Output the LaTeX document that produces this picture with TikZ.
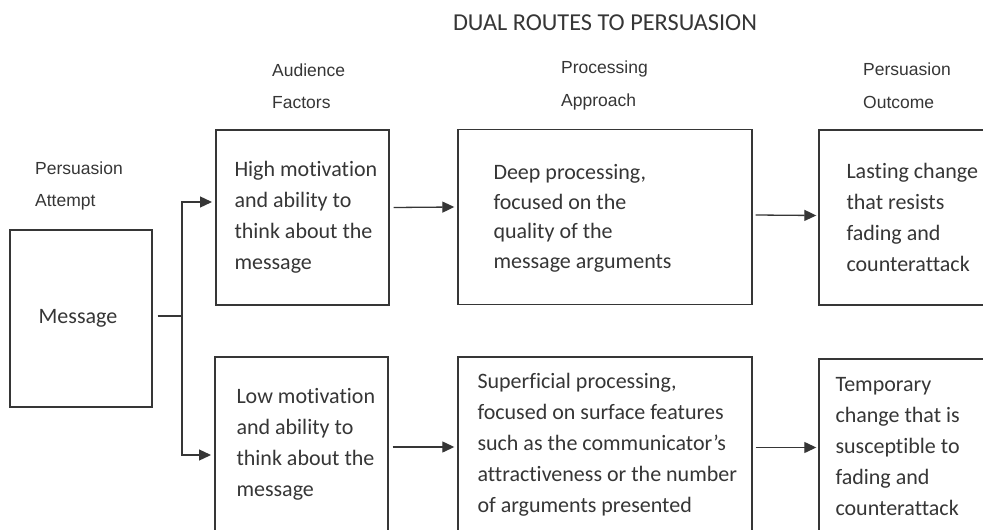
\documentclass[tikz,border=0pt]{standalone}
\usepackage{fontspec}
\setmainfont{Carlito}[Ligatures=CommonOff]
\newfontfamily\headfont{Liberation Sans}
\usetikzlibrary{arrows.meta}
\definecolor{ink}{HTML}{363636}
\begin{document}
\begin{tikzpicture}[x=1pt,y=-1pt,
  box/.style={draw=ink, line width=1.4pt, minimum width=#1, minimum height=175pt, inner sep=0pt},
  box/.default=173,
  body/.style={font=\fontsize{22}{31}\selectfont, align=left, anchor=west, inner sep=0pt, text=ink},
  head/.style={font=\headfont\fontsize{17.5}{32.5}\selectfont, align=left, anchor=west, inner sep=0pt, text=ink},
  link/.style={draw=ink, line width=1.3pt},
  arrow/.style={link, -{Triangle[length=12pt,width=11pt]}}
]
\useasboundingbox (0,0) rectangle (983,530);
\fill[white] (0,0) rectangle (983,530);

% title and column headings
\node[font=\fontsize{24.3}{28}\selectfont, text=ink] (title) at (605,23) {DUAL ROUTES TO PERSUASION};
\node[head] (hattempt) at (35,186) {Persuasion\\Attempt};
\node[head] (haud) at (272,86) {Audience\\Factors};
\node[head] (hproc) at (561,85.5) {Processing\\Approach};
\node[head] (hout) at (863,85.5) {Persuasion\\Outcome};

% boxes
\node[box=142, minimum height=177pt, font=\fontsize{22}{26}\selectfont, text=ink] (msg) at (81,318.5) {Message\hspace*{6pt}};
\node[box] (ha) at (302.5,217.5) {};
\node[box] (la) at (301.5,444.5) {};
\node[box=294] (pt) at (605,217) {};
\node[box=294] (pb) at (605,444.5) {};
\node[box=190] (ot) at (914,217.5) {};
\node[box=190] (ob) at (914,446.5) {};

% box texts
\node[body] (tha) at ([xshift=19pt]ha.west) {High motivation\\and ability to\\think about the\\message};
\node[body] (tla) at ([xshift=22pt]la.west) {Low motivation\\and ability to\\think about the\\message};
\node[body, font=\fontsize{22}{29.5}\selectfont] (tpt) at ([xshift=36pt,yshift=-1.5pt]pt.west) {Deep processing,\\focused on the\\quality of the\\message arguments};
\node[body] (tpb) at ([xshift=20pt]pb.west) {Superficial processing,\\focused on surface features\\such as the communicator’s\\attractiveness or the number\\of arguments presented};
\node[body] (tot) at ([xshift=28pt]ot.west) {Lasting change\\that resists\\fading and\\counterattack};
\node[body] (tob) at ([xshift=17pt]ob.west) {Temporary\\change that is\\susceptible to\\fading and\\counterattack};

% connectors
\coordinate (fork) at (182,316);
\coordinate (hin) at (212,202);
\coordinate (lin) at (211,455);
\draw[link] ([xshift=5pt]msg.east |- fork) -- (fork);
\draw[arrow] (fork) |- (hin);
\draw[arrow] (fork) |- (lin);
\draw[arrow] ([xshift=4pt,yshift=10pt]ha.east) -- ([xshift=-3pt,yshift=10pt]pt.west);
\draw[arrow] ([xshift=3pt,yshift=2pt]pt.east) -- ([xshift=-2pt,yshift=2pt]ot.west);
\draw[arrow] ([xshift=4pt,yshift=-2.5pt]la.east) -- ([xshift=-3pt,yshift=-2.5pt]pb.west);
\draw[arrow] ([xshift=3pt,yshift=-3pt]pb.east) -- ([xshift=-2pt,yshift=-1pt]ob.west);
\end{tikzpicture}
\end{document}
